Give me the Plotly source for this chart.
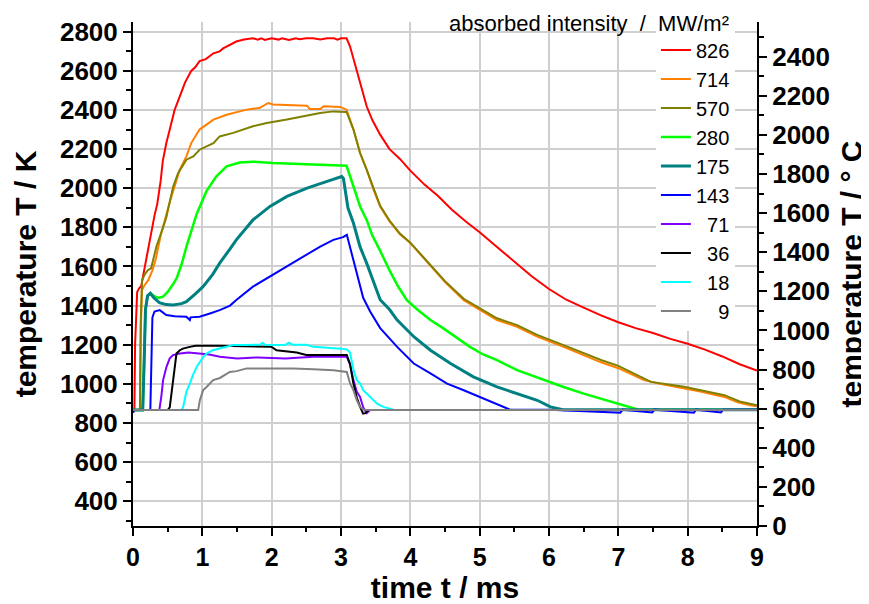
import plotly.graph_objects as go

# ---------------- data (time in ms, temperature in K) ----------------
labels = ["826", "714", "570", "280", "175", "143", "71", "36", "18", "9"]
colors = ["#ff0000", "#ff8000", "#808000", "#00ff00", "#008080",
          "#0000ff", "#8000ff", "#000000", "#00ffff", "#808080"]

t_826 = [0, 0.02, 0.03, 0.045, 0.06, 0.09, 0.12, 0.15, 0.19, 0.23, 0.27, 0.31, 0.35, 0.40, 0.43, 0.48,
         0.53, 0.60, 0.675, 0.75, 0.84, 0.90, 0.96, 1.05, 1.16, 1.25, 1.30, 1.40, 1.49, 1.60, 1.73,
         1.80, 1.85, 1.90, 2.00, 2.10, 2.15, 2.25, 2.35, 2.40, 2.50, 2.60, 2.70, 2.80, 2.90, 2.95,
         3.00, 3.05, 3.08, 3.13, 3.18, 3.23, 3.30, 3.37, 3.45, 3.565, 3.70, 3.85, 4.0, 4.2, 4.4,
         4.6, 4.8, 5.0, 5.25, 5.5, 5.75, 6.0, 6.25, 6.5, 6.75, 7.0, 7.25, 7.5, 7.75, 8.0, 8.25,
         8.5, 8.75, 9.0]
T_826 = [866, 868, 1200, 1390, 1470, 1490, 1500, 1560, 1640, 1720, 1800, 1860, 1920, 2040, 2140, 2230,
         2300, 2400, 2470, 2540, 2600, 2620, 2650, 2660, 2690, 2700, 2715, 2735, 2750, 2760, 2767,
         2760, 2767, 2758, 2767, 2760, 2767, 2758, 2767, 2762, 2767, 2767, 2760, 2767, 2767, 2760,
         2767, 2767, 2767, 2726, 2660, 2607, 2510, 2419, 2350, 2274, 2200, 2150, 2090, 2020, 1960,
         1890, 1830, 1775, 1700, 1625, 1550, 1485, 1430, 1390, 1350, 1315, 1285, 1260, 1230, 1205, 1175,
         1140, 1100, 1068]

t_714 = [0, 0.10, 0.115, 0.13, 0.16, 0.22, 0.28, 0.33, 0.40, 0.47, 0.53, 0.60, 0.675, 0.77, 0.84,
         0.96, 1.06, 1.16, 1.35, 1.64, 1.83, 1.95, 2.02, 2.51, 2.55, 2.70, 2.75, 2.99, 3.08, 3.18,
         3.275, 3.37, 3.47, 3.565, 3.70, 3.85, 4.0, 4.25, 4.5, 4.77, 5.01, 5.25, 5.54, 5.83, 6.21,
         6.45, 6.75, 7.0, 7.37, 7.6, 7.95, 8.2, 8.53, 8.72, 8.9, 9.0]
T_714 = [866, 866, 1300, 1480, 1500, 1530, 1580, 1640, 1760, 1860, 1930, 2009, 2095, 2163, 2231,
         2300, 2325, 2351, 2376, 2402, 2411, 2436, 2428, 2422, 2405, 2405, 2419, 2416, 2402, 2300,
         2180, 2095, 1992, 1907, 1830, 1765, 1720, 1620, 1520, 1428, 1377, 1326, 1292, 1241, 1189,
         1155, 1110, 1080, 1019, 1000, 976, 960, 933, 905, 890, 885]

t_570 = [0, 0.10, 0.11, 0.13, 0.17, 0.217, 0.26, 0.338, 0.434, 0.48, 0.58, 0.65, 0.77, 0.87, 0.96,
         1.16, 1.25, 1.445, 1.73, 1.93, 2.22, 2.41, 2.70, 2.89, 3.06, 3.08, 3.18, 3.275, 3.37, 3.47,
         3.565, 3.70, 3.85, 4.0, 4.25, 4.5, 4.77, 5.01, 5.25, 5.54, 5.83, 6.21, 6.45, 6.75, 7.0,
         7.47, 7.95, 8.53, 8.75, 9.0]
T_570 = [866, 866, 1300, 1530, 1560, 1582, 1590, 1702, 1800, 1850, 2009, 2077, 2146, 2163, 2197,
         2231, 2265, 2283, 2317, 2334, 2351, 2364, 2385, 2393, 2393, 2390, 2300, 2180, 2095, 1995,
         1910, 1835, 1768, 1722, 1625, 1525, 1435, 1385, 1335, 1300, 1250, 1198, 1165, 1122, 1092,
         1010, 985, 942, 910, 891]

t_280 = [0, 0.14, 0.16, 0.18, 0.21, 0.25, 0.30, 0.36, 0.43, 0.50, 0.58, 0.63, 0.70, 0.77, 0.92,
         1.06, 1.20, 1.35, 1.54, 1.73, 2.02, 2.46, 3.05, 3.08, 3.18, 3.275, 3.37, 3.45, 3.565, 3.70,
         3.82, 3.95, 4.10, 4.29, 4.45, 4.58, 4.72, 4.86, 5.05, 5.25, 5.54, 5.92, 6.21, 6.50, 6.75,
         7.0, 7.18, 7.28, 7.5, 8.0, 8.5, 9.0]
T_280 = [866, 866, 1100, 1380, 1450, 1463, 1450, 1439, 1445, 1470, 1510, 1540, 1610, 1700, 1870,
         1985, 2060, 2112, 2132, 2136, 2129, 2124, 2117, 2115, 2009, 1907, 1838, 1760, 1680, 1580,
         1500, 1428, 1380, 1326, 1290, 1258, 1220, 1189, 1150, 1121, 1070, 1019, 984, 950, 925,
         899, 882, 869, 868, 868, 868, 868]

t_175 = [0, 0.14, 0.16, 0.18, 0.21, 0.25, 0.30, 0.38, 0.48, 0.58, 0.70, 0.77, 0.90, 1.01, 1.15,
         1.25, 1.40, 1.49, 1.73, 1.975, 2.22, 2.51, 2.80, 3.01, 3.035, 3.10, 3.18, 3.275, 3.37,
         3.47, 3.565, 3.70, 3.81, 4.05, 4.29, 4.58, 4.91, 5.25, 5.54, 5.83, 6.02, 6.2, 7.0, 8.0, 9.0]
T_175 = [866, 866, 1100, 1380, 1450, 1463, 1440, 1415, 1405, 1403, 1410, 1420, 1460, 1497, 1560,
         1617, 1690, 1736, 1838, 1907, 1958, 2001, 2035, 2060, 2050, 1900, 1821, 1700, 1617,
         1520, 1430, 1380, 1326, 1241, 1172, 1104, 1036, 984, 951, 916, 882, 868, 868, 868, 868]

t_143 = [0, 0.02, 0.25, 0.265, 0.28, 0.31, 0.386, 0.48, 0.60, 0.77, 0.82, 0.83, 0.96, 1.11, 1.25,
         1.40, 1.49, 1.73, 1.975, 2.22, 2.46, 2.70, 2.89, 3.03, 3.084, 3.18, 3.275, 3.32, 3.42,
         3.565, 3.81, 4.05, 4.29, 4.53, 4.77, 5.01, 5.25, 5.44, 6.0, 7.03, 7.06, 7.49, 7.52, 8.09,
         8.12, 8.48, 8.51, 9.0]
T_143 = [852, 866, 866, 1100, 1340, 1370, 1377, 1352, 1345, 1343, 1326, 1340, 1343, 1360, 1377,
         1400, 1429, 1497, 1548, 1599, 1650, 1702, 1736, 1750, 1762, 1634, 1497, 1440, 1370,
         1285, 1189, 1104, 1053, 1001, 967, 933, 899, 868, 868, 852, 868, 854, 868, 852,
         868, 854, 868, 868]

t_71 = [0, 0.38, 0.41, 0.434, 0.483, 0.53, 0.578, 0.675, 0.80, 1.00, 1.10, 1.253, 1.35, 1.50,
        1.80, 2.20, 2.60, 2.90, 3.084, 3.131, 3.179, 3.228, 3.275, 3.32, 3.37, 3.42, 4.0, 9.0]
T_71 = [866, 866, 940, 1019, 1087, 1130, 1147, 1155, 1160, 1155, 1150, 1138, 1135, 1130,
        1135, 1130, 1138, 1140, 1138, 1100, 1019, 960, 933, 880, 850, 866, 866, 866]

t_36 = [0, 0.50, 0.53, 0.578, 0.627, 0.675, 0.72, 0.82, 0.90, 1.25, 1.50, 1.73, 2.00, 2.07,
        2.36, 2.50, 2.90, 3.084, 3.131, 3.179, 3.228, 3.275, 3.32, 3.35, 3.40, 4.0, 9.0]
T_36 = [866, 866, 880, 1019, 1155, 1172, 1180, 1189, 1195, 1195, 1192, 1189, 1189, 1172,
        1160, 1147, 1147, 1147, 1100, 1002, 930, 882, 848, 850, 866, 866, 866]

t_18 = [0, 0.70, 0.723, 0.77, 0.82, 0.87, 0.92, 1.00, 1.06, 1.15, 1.25, 1.35, 1.45, 1.60, 1.83,
        1.87, 1.90, 2.00, 2.20, 2.25, 2.30, 2.50, 2.60, 3.00, 3.084, 3.13, 3.18, 3.228, 3.275,
        3.32, 3.37, 3.42, 3.468, 3.517, 3.565, 3.613, 3.757, 4.0, 9.0]
T_18 = [866, 866, 880, 960, 1001, 1050, 1087, 1130, 1155, 1172, 1181, 1190, 1198, 1198, 1200,
        1210, 1200, 1198, 1200, 1210, 1200, 1200, 1189, 1180, 1176, 1160, 1070, 1019, 1002,
        968, 951, 930, 916, 900, 890, 882, 868, 866, 866]

t_9 = [0, 0.94, 0.964, 1.012, 1.061, 1.156, 1.253, 1.397, 1.494, 1.639, 1.734, 2.00, 2.312,
       2.60, 2.89, 3.084, 3.131, 3.179, 3.228, 3.275, 3.324, 3.40, 9.0]
T_9 = [866, 866, 916, 968, 984, 1019, 1030, 1061, 1065, 1079, 1079, 1079, 1079,
       1075, 1070, 1061, 1002, 968, 916, 882, 868, 866, 866]

times = [t_826, t_714, t_570, t_280, t_175, t_143, t_71, t_36, t_18, t_9]
temps = [T_826, T_714, T_570, T_280, T_175, T_143, T_71, T_36, T_18, T_9]

x_ticks = [0, 1, 2, 3, 4, 5, 6, 7, 8, 9]
K_range = [273.15, 2850]
C_range = [K_range[0] - 273.15, K_range[1] - 273.15]

FONT = "Liberation Sans, Arial, sans-serif"
FIG = "\u2007"

fig = go.Figure()
for lab, col, tt, TT in zip(labels, colors, times, temps):
    width = 3 if lab == "175" else (2.5 if lab == "280" else 2)
    fig.add_trace(go.Scatter(
        x=tt, y=TT, mode="lines", name=FIG * (3 - len(lab)) + lab,
        line=dict(color=col, width=width), yaxis="y"))

# empty helper trace so the °C axis is drawn
fig.add_trace(go.Scatter(x=[], y=[], yaxis="y2", showlegend=False, hoverinfo="skip"))

axis_common = dict(
    showline=True, linecolor="black", linewidth=2, mirror=False,
    ticks="outside", ticklen=8, tickwidth=2, tickcolor="black",
    zeroline=False, automargin=False,
)
bold_ticks = dict(family=FONT, size=26, color="black", weight="bold")
title_font = dict(family=FONT, size=30, color="black", weight="bold")

# the page body adds an 8 px offset, so the figure is 8 px smaller than the window
fig.update_layout(
    template="none",
    width=861, height=596,
    margin=dict(l=125, r=112, t=14, b=78, autoexpand=False),
    paper_bgcolor="white", plot_bgcolor="white",
    font=dict(family=FONT, color="black"),
    xaxis=dict(
        range=[0, 9], tickvals=x_ticks, **axis_common,
        tickfont=dict(family=FONT, size=25, color="black", weight="bold"),
        showgrid=True, gridcolor="#cfcfcf", gridwidth=1.5,
        minor=dict(dtick=0.5, ticklen=4, tickwidth=2, tickcolor="black", ticks="outside", showgrid=False),
        title=dict(text="time t / ms", font=title_font, standoff=0),
    ),
    yaxis=dict(
        range=K_range, dtick=200, tick0=0, **axis_common, tickfont=bold_ticks,
        showgrid=True, gridcolor="#cfcfcf", gridwidth=1.5,
        minor=dict(dtick=100, tick0=0, ticklen=5, tickwidth=2, tickcolor="black", ticks="outside",
                   showgrid=False),
        title=dict(text="temperature T / K", font=title_font, standoff=14),
    ),
    yaxis2=dict(
        range=C_range, dtick=200, tick0=0, overlaying="y", side="right", **axis_common,
        tickfont=bold_ticks, showgrid=False,
        minor=dict(dtick=100, tick0=0, ticklen=5, tickwidth=2, tickcolor="black", ticks="outside",
                   showgrid=False),
        title=dict(text="temperature T / ° C", font=title_font, standoff=12),
    ),
    legend=dict(
        x=0.838, y=0.983, xanchor="left", yanchor="top",
        bgcolor="white", borderwidth=0,
        font=dict(family=FONT, size=20, color="black"),
    ),
    showlegend=True,
)

fig.add_annotation(
    text="absorbed intensity  /  MW/m²", xref="paper", yref="paper",
    x=0.958, y=0.998, xanchor="right", yanchor="middle", showarrow=False,
    font=dict(family=FONT, size=22, color="black"),
)

fig.write_html("out.html")
